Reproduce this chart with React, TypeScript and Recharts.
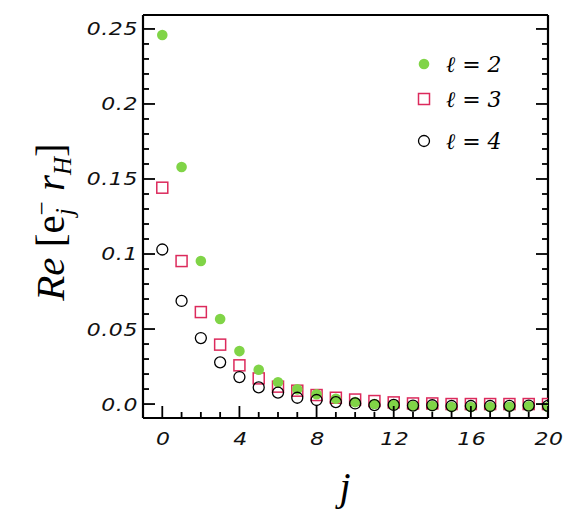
import { ScatterChart, Scatter, XAxis, YAxis } from "recharts";

// mode index j
const modeIndex = [0, 1, 2, 3, 4, 5, 6, 7, 8, 9, 10, 11, 12, 13, 14, 15, 16, 17, 18, 19, 20];

// Re[e_j^- r_H] for each multipole
const ell2 = [
  0.246, 0.158, 0.0953, 0.0567, 0.0353, 0.0229, 0.0145, 0.0098, 0.0065, 0.0035, 0.0013,
  0.0, -0.0007, -0.0013, -0.0013, -0.002, -0.002, -0.002, -0.0018, -0.0015, -0.002,
];
const ell3 = [
  0.1442, 0.0953, 0.0613, 0.0396, 0.0258, 0.0171, 0.0116, 0.0089, 0.006, 0.0042, 0.003,
  0.002, 0.0011, 0.0004, 0.0004, 0.0, 0.0, 0.0, 0.0, 0.0, 0.0,
];
const ell4 = [
  0.103, 0.0687, 0.044, 0.0278, 0.018, 0.0111, 0.0076, 0.0042, 0.0027, 0.0013, 0.0004,
  -0.0007, -0.0006, -0.001, -0.0008, -0.0013, -0.0013, -0.0013, -0.0012, -0.001, -0.0012,
];

const xMajor = [0, 4, 8, 12, 16, 20];
const xTicks = modeIndex;
const yMajorLabels: Record<number, string> = {
  0: "0.0",
  5: "0.05",
  10: "0.1",
  15: "0.15",
  20: "0.2",
  25: "0.25",
};
const yTicks = Array.from({ length: 26 }, (_, i) => i / 100);

const X_DOMAIN: [number, number] = [-1, 20];
const Y_DOMAIN: [number, number] = [-0.0093, 0.2593];

const GREEN = "#80d447";
const RED = "#dc2a5c";

// wide oblique digits: DejaVu stretched horizontally
const tickFont = {
  fontFamily: "DejaVu Sans",
  fontStyle: "italic",
  fontSize: 18,
  letterSpacing: 0.5,
  fill: "#111",
};
const STRETCH = 1.22;

const toPoints = (vals: number[]) => modeIndex.map((j, i) => ({ j, v: vals[i] }));

const MAJOR = 12;
const MINOR = 6;

function BottomTick({ x, y, payload }: any) {
  const major = xMajor.includes(payload.value);
  return (
    <g>
      <line x1={x} y1={y} x2={x} y2={y - (major ? MAJOR : MINOR)} stroke="#000" strokeWidth={1.8} />
      {major && (
        <g transform={`translate(${x + 1}, ${y + 27}) scale(${STRETCH}, 1)`}>
          <text textAnchor="middle" {...tickFont}>
            {payload.value}
          </text>
        </g>
      )}
    </g>
  );
}

function TopTick({ x, y, payload }: any) {
  const major = xMajor.includes(payload.value);
  return <line x1={x} y1={y} x2={x} y2={y + (major ? MAJOR : MINOR)} stroke="#000" strokeWidth={1.8} />;
}

function LeftTick({ x, y, payload }: any) {
  const k = Math.round(payload.value * 100);
  const major = k % 5 === 0;
  return (
    <g>
      <line x1={x} y1={y} x2={x + (major ? MAJOR : MINOR)} y2={y} stroke="#000" strokeWidth={1.8} />
      {major && (
        <g transform={`translate(${x - 5}, ${y}) scale(${STRETCH}, 1)`}>
          <text dy="0.36em" textAnchor="end" {...tickFont}>
            {yMajorLabels[k]}
          </text>
        </g>
      )}
    </g>
  );
}

function RightTick({ x, y, payload }: any) {
  const major = Math.round(payload.value * 100) % 5 === 0;
  return <line x1={x} y1={y} x2={x - (major ? MAJOR : MINOR)} y2={y} stroke="#000" strokeWidth={1.8} />;
}

const dot = ({ cx, cy }: any) => <circle cx={cx} cy={cy} r={5.3} fill={GREEN} />;
const square = ({ cx, cy }: any) => (
  <rect x={cx - 5.5} y={cy - 5.5} width={11} height={11} fill="none" stroke={RED} strokeWidth={1.5} />
);
const ring = ({ cx, cy }: any) => (
  <circle cx={cx} cy={cy} r={5.5} fill="none" stroke="#000" strokeWidth={1.3} />
);

const axisLine = { stroke: "#000", strokeWidth: 2.2 };

export default function App() {
  return (
    <div style={{ position: "absolute", left: 0, top: 0, width: 571, height: 511, background: "#fff" }}>
      <ScatterChart width={571} height={511} margin={{ top: 5, right: 13, bottom: 53, left: 83 }}>
        <XAxis
          xAxisId="b"
          type="number"
          dataKey="j"
          domain={X_DOMAIN}
          allowDataOverflow
          ticks={xTicks}
          interval={0}
          height={40}
          tickSize={0}
          tickMargin={0}
          tickLine={false}
          axisLine={axisLine}
          tick={BottomTick}
        />
        <XAxis
          xAxisId="t"
          orientation="top"
          type="number"
          domain={X_DOMAIN}
          allowDataOverflow
          ticks={xTicks}
          interval={0}
          height={10}
          tickSize={0}
          tickMargin={0}
          tickLine={false}
          axisLine={axisLine}
          tick={TopTick}
        />
        <YAxis
          yAxisId="l"
          type="number"
          dataKey="v"
          domain={Y_DOMAIN}
          allowDataOverflow
          ticks={yTicks}
          interval={0}
          width={60}
          tickSize={0}
          tickMargin={0}
          tickLine={false}
          axisLine={axisLine}
          tick={LeftTick}
        />
        <YAxis
          yAxisId="r"
          orientation="right"
          type="number"
          domain={Y_DOMAIN}
          allowDataOverflow
          ticks={yTicks}
          interval={0}
          width={10}
          tickSize={0}
          tickMargin={0}
          tickLine={false}
          axisLine={axisLine}
          tick={RightTick}
        />
        <Scatter xAxisId="b" yAxisId="l" data={toPoints(ell3)} shape={square} isAnimationActive={false} />
        <Scatter xAxisId="b" yAxisId="l" data={toPoints(ell2)} shape={dot} isAnimationActive={false} />
        <Scatter xAxisId="b" yAxisId="l" data={toPoints(ell4)} shape={ring} isAnimationActive={false} />
      </ScatterChart>

      {/* axis titles and legend */}
      <svg width={571} height={511} style={{ position: "absolute", left: 0, top: 0, pointerEvents: "none" }}>
        <text
          x={345}
          y={500}
          textAnchor="middle"
          fontFamily="Liberation Serif"
          fontStyle="italic"
          fontSize={40}
        >
          j
        </text>
        <g transform="translate(64, 222) rotate(-90)">
          <text textAnchor="middle" fontFamily="Liberation Serif" fontSize={41}>
            <tspan fontStyle="italic">Re</tspan>
            <tspan> [e</tspan>
            <tspan fontSize={25} fontStyle="italic" dy={9}>j</tspan>
            <tspan fontSize={25} dx={-7} dy={-23}>−</tspan>
            <tspan fontStyle="italic" dy={14}> r</tspan>
            <tspan fontSize={25} fontStyle="italic" dy={7}>H</tspan>
            <tspan dy={-7}>]</tspan>
          </text>
        </g>

        <circle cx={424} cy={64} r={5.3} fill={GREEN} />
        <rect x={418.5} y={93.5} width={11} height={11} fill="none" stroke={RED} strokeWidth={1.5} />
        <circle cx={424} cy={141} r={5.5} fill="none" stroke="#000" strokeWidth={1.3} />
        {[
          ["2", 64],
          ["3", 99],
          ["4", 141],
        ].map(([n, y]) => (
          <text key={n} x={446} y={y as number} dy="0.36em" fontFamily="DejaVu Serif" fontStyle="italic" fontSize={22}>
            ℓ = {n}
          </text>
        ))}
      </svg>
    </div>
  );
}
